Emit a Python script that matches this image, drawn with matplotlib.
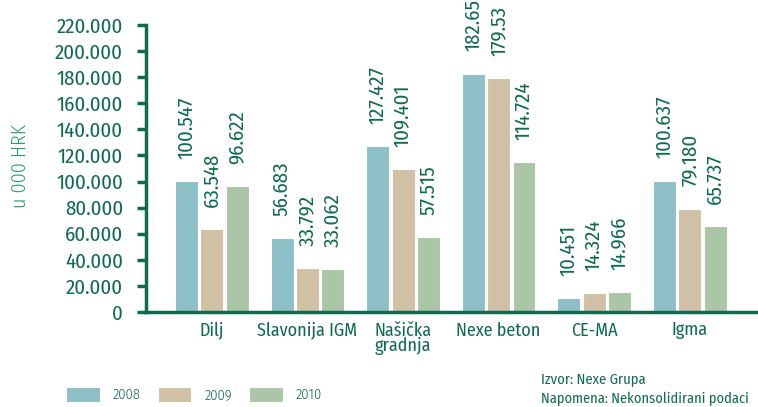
import matplotlib
matplotlib.use("Agg")
import matplotlib.pyplot as plt
import numpy as np
from matplotlib.ticker import FuncFormatter

categories = ["Dilj", "Slavonija IGM", "Našička\ngradnja", "Nexe beton", "CE-MA", "Igma"]
years = ["2008", "2009", "2010"]
v2008 = [100547, 56683, 127427, 182654, 10451, 100637]
v2009 = [63548, 33792, 109401, 179530, 14324, 79180]
v2010 = [96622, 33062, 57515, 114724, 14966, 65737]
labels2008 = ["100.547", "56.683", "127.427", "182.65", "10.451", "100.637"]
labels2009 = ["63.548", "33.792", "109.401", "179.53", "14.324", "79.180"]
labels2010 = ["96.622", "33.062", "57.515", "114.724", "14.966", "65.737"]
yticks = list(range(0, 220001, 20000))

colors = ["#8DC0C6", "#CFC0A6", "#ABC6A6"]
green = "#0E6B4F"
font = ["Fira Sans Condensed", "DejaVu Sans"]
plt.rcParams['font.family'] = font
plt.rcParams['font.weight'] = 400

fig = plt.figure(figsize=(7.58, 4.07), dpi=100)
ax = fig.add_axes([0.1926, 0.2334, 0.8044, 0.7052])

x = np.arange(len(categories))
w = 0.24
off = 0.265
series = [v2008, v2009, v2010]
labs = [labels2008, labels2009, labels2010]
for i, (vals, lab) in enumerate(zip(series, labs)):
    xs = x + (i - 1) * off
    ax.bar(xs, vals, width=w, color=colors[i], edgecolor="white", linewidth=0.8,
           label=years[i], zorder=2)
    for xi, v, t in zip(xs, vals, lab):
        ax.annotate(t, (xi, v), xytext=(0, 16), textcoords="offset points",
                    rotation=90, ha="center", va="bottom", fontsize=15,
                    color=green, annotation_clip=False)

ax.set_xlim(-0.69, 5.69)
ax.set_ylim(0, 220000)
ax.set_yticks(yticks)
ax.yaxis.set_major_formatter(FuncFormatter(lambda v, p: "0" if v == 0 else f"{int(v):,}".replace(",", ".")))
ax.set_xticks(x)
ax.set_xticklabels(categories, fontsize=13, color=green, linespacing=0.85, va="top")
ax.tick_params(axis="x", length=0, pad=7)
ax.tick_params(axis="y", length=6.5, width=2.5, color=green, labelcolor=green,
               labelsize=15, pad=10, direction="out")
for s in ["top", "right"]:
    ax.spines[s].set_visible(False)
ax.spines["left"].set_color(green)
ax.spines["left"].set_linewidth(2.5)
ax.spines["bottom"].set_color(green)
ax.spines["bottom"].set_linewidth(2.5)
ax.set_ylabel("u 000 HRK", fontsize=14.5, color="#2E9A78", fontweight=300)
ax.yaxis.set_label_coords(-0.19, 0.51)

leg = fig.legend(loc="lower left", bbox_to_anchor=(0.07, -0.02), ncol=3, frameon=False,
                 fontsize=10.5, handlelength=2.3, handleheight=1.17, columnspacing=1.17,
                 handletextpad=0.9, labelcolor=green, prop={"weight": 300, "size": 10.5})

fig.text(0.714, 0.059, "Izvor: Nexe Grupa", fontsize=10.5, color=green, va="baseline")
fig.text(0.714, 0.010, "Napomena: Nekonsolidirani podaci", fontsize=10.3, color=green, va="baseline")

fig.savefig("out.png", dpi=100)
